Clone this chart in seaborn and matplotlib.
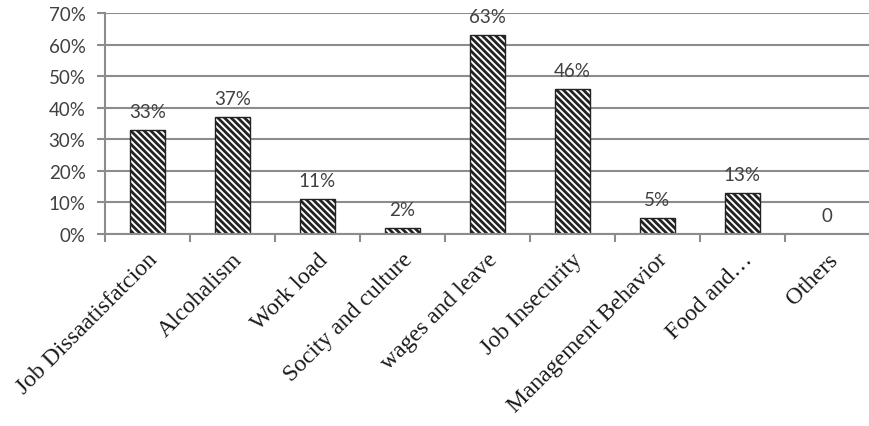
import matplotlib
matplotlib.use("Agg")
import matplotlib.pyplot as plt
import matplotlib.transforms as mtransforms
import seaborn as sns
import pandas as pd
import numpy as np
from matplotlib.ticker import FixedLocator

categories = ["Job Dissaatisfatcion", "Alcohalism", "Work load", "Socity and culture",
              "wages and leave", "Job Insecurity", "Management Behavior", "Food and…", "Others"]
values = [33, 37, 11, 2, 63, 46, 5, 13, 0]
labels = ["33%", "37%", "11%", "2%", "63%", "46%", "5%", "13%", "0"]
yticks = [0, 10, 20, 30, 40, 50, 60, 70]

df = pd.DataFrame({"cat": categories, "val": values})

sns.set_style("white")
plt.rcParams["hatch.linewidth"] = 2.0
plt.rcParams["hatch.color"] = "black"

fig = plt.figure(figsize=(8.7, 4.27), dpi=100)
ax = fig.add_axes([0.1207, 0.4496, 0.879, 0.5176])

sns.barplot(data=df, x="cat", y="val", ax=ax, color="white", width=0.41,
            edgecolor="black", linewidth=1.0, saturation=1)
for p in ax.patches:
    p.set_hatch("\\" * 5)
    p.set_facecolor("white")
    p.set_edgecolor("#222222")

ax.set_ylim(0, 70)
ax.set_xlim(-0.5, len(categories) - 0.5)
ax.set_yticks(yticks)
ax.set_yticklabels([f"{t}%" for t in yticks], fontsize=13.5, color="#404040",
                   family="Lato")
ax.yaxis.grid(True, color="#8c8c8c", linewidth=1.5)
ax.set_axisbelow(True)
ax.tick_params(axis="y", length=6, width=1.5, color="#8c8c8c", pad=8, left=True)

ax.set_xticks(range(len(categories)))
ax.set_xticklabels(categories, rotation=45, ha="right", va="center",
                   rotation_mode="anchor",
                   fontsize=17, family="Liberation Serif", color="#1a1a1a")
ax.tick_params(axis="x", which="major", length=0, pad=16)
offset = mtransforms.ScaledTranslation(7 / 100, 0, fig.dpi_scale_trans)
for lab in ax.get_xticklabels():
    lab.set_transform(lab.get_transform() + offset)
ax.xaxis.set_minor_locator(FixedLocator(np.arange(-0.5, len(categories), 1)))
ax.tick_params(axis="x", which="minor", length=6, width=1.5, color="#8c8c8c", bottom=True)

for s in ["top", "right"]:
    ax.spines[s].set_visible(False)
for s in ["left", "bottom"]:
    ax.spines[s].set_color("#8c8c8c")
    ax.spines[s].set_linewidth(1.5)

ax.set_xlabel("")
ax.set_ylabel("")

for i, (v, lab) in enumerate(zip(values, labels)):
    ax.annotate(lab, (i, v), xytext=(0, 9.5), textcoords="offset points",
                ha="center", va="baseline", fontsize=13.5, color="#404040",
                family="Lato")

fig.savefig("out.png", dpi=100)
